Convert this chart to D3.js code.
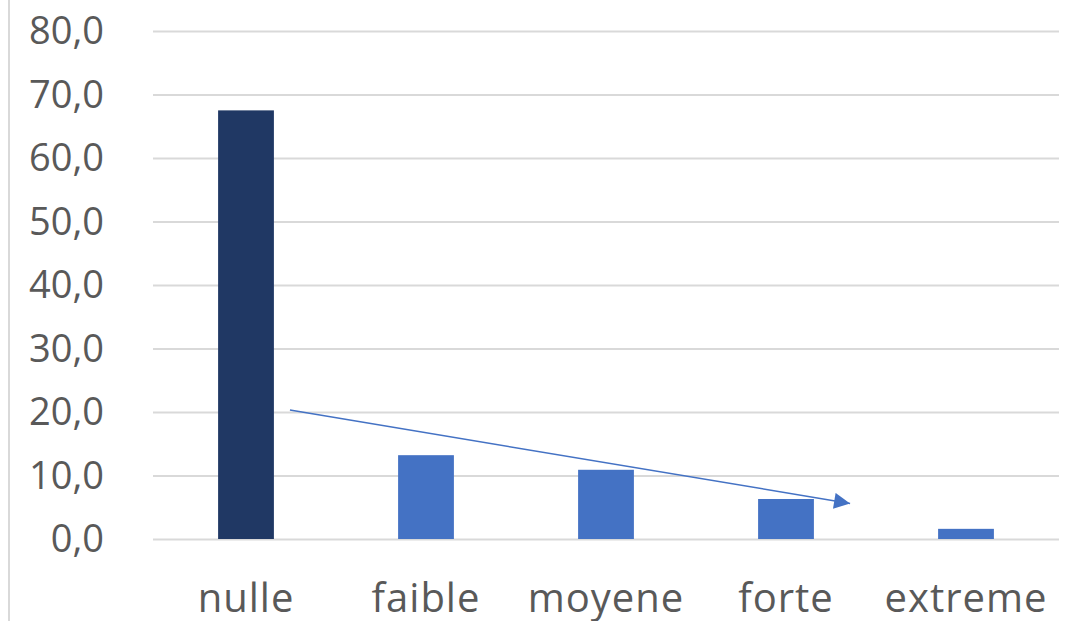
<!DOCTYPE html>
<html>
<head>
<meta charset="utf-8">
<script src="https://cdn.jsdelivr.net/npm/d3@7"></script>
<style>
  html, body { margin: 0; padding: 0; background: #fff; }
  svg { display: block; }
</style>
</head>
<body>
<svg id="chart" width="1068" height="621"></svg>
<script>
const categories = ["nulle", "faible", "moyene", "forte", "extreme"];
const values = [67.5, 13.2, 10.9, 6.3, 1.6];
const barColors = ["#203864", "#4472C4", "#4472C4", "#4472C4", "#4472C4"];
const yTicks = [0, 10, 20, 30, 40, 50, 60, 70, 80];
// trend arrow annotation in data space: [category index, value]
const arrowStart = [0.244, 20.3];
const arrowEnd = [3.356, 5.6];

const svg = d3.select("#chart");
const W = 1068, H = 621;
const font = "'Open Sans', 'Liberation Sans', sans-serif";

// outer border line on the left
svg.append("line")
  .attr("x1", 9).attr("x2", 9).attr("y1", 0).attr("y2", H)
  .attr("stroke", "#D9D9D9").attr("stroke-width", 2);

const x = d3.scaleBand().domain(categories).range([156, 1056])
  .paddingInner(0.69).paddingOuter(0.345);
const y = d3.scaleLinear().domain([0, 80]).range([539, 31]);

// gridlines
const yAxis = d3.axisLeft(y).tickValues(yTicks)
  .tickSize(-(1059 - 153)).tickPadding(49)
  .tickFormat(d => d3.format(".1f")(d).replace(".", ","));
const gy = svg.append("g").attr("transform", "translate(153,0)").call(yAxis);
gy.select(".domain").remove();
gy.selectAll(".tick line").attr("stroke", "#D9D9D9").attr("stroke-width", 2);
gy.selectAll(".tick text")
  .attr("fill", "#595959").style("font-family", font).style("font-size", "38px")
  .attr("dy", "0.34em");

// bars
svg.append("g").selectAll("rect").data(categories).join("rect")
  .attr("x", d => x(d))
  .attr("width", x.bandwidth())
  .attr("y", (d, i) => y(values[i]))
  .attr("height", (d, i) => y(0) - y(values[i]))
  .attr("fill", (d, i) => barColors[i]);

// category axis
const xAxis = d3.axisBottom(x).tickSize(0).tickPadding(45);
const gx = svg.append("g").attr("transform", "translate(0,539)").call(xAxis);
gx.select(".domain").remove();
gx.selectAll(".tick text")
  .attr("fill", "#595959").style("font-family", font).style("font-size", "40px")
  .style("letter-spacing", "1px");

// arrow
const xi = d3.scaleLinear().domain([0, 1]).range([x("nulle") + x.bandwidth() / 2, x("faible") + x.bandwidth() / 2]);
const defs = svg.append("defs");
defs.append("marker").attr("id", "arrowhead")
  .attr("viewBox", "0 0 10 10").attr("refX", 10).attr("refY", 5)
  .attr("markerWidth", 17).attr("markerHeight", 16)
  .attr("markerUnits", "userSpaceOnUse")
  .attr("orient", "auto")
  .append("path").attr("d", "M0,0 L10,5 L0,10 Z").attr("fill", "#4472C4");

svg.append("line")
  .attr("x1", xi(arrowStart[0])).attr("y1", y(arrowStart[1]))
  .attr("x2", xi(arrowEnd[0])).attr("y2", y(arrowEnd[1]))
  .attr("stroke", "#4472C4").attr("stroke-width", 1.5)
  .attr("marker-end", "url(#arrowhead)");
</script>
</body>
</html>
